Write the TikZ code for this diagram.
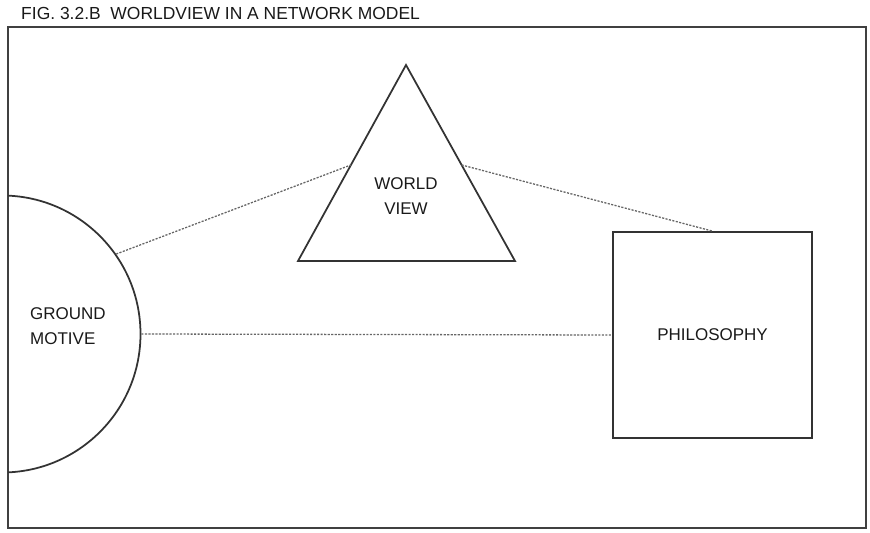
\documentclass[tikz,border=0pt]{standalone}
\usepackage{fontspec}
\setmainfont{Liberation Sans}
\usetikzlibrary{positioning}
\usetikzlibrary{calc}
\tikzset{
    frameline/.style = {draw=black!75, line width=1.3pt},
    shapeline/.style = {draw=black!80, line width=1.5pt},
    ground/.style = {circle, shapeline, minimum size=277*0.03cm, inner sep=0pt},
    phil/.style = {rectangle, shapeline, minimum width=199*0.03cm, minimum height=206*0.03cm, align=center},
    txt/.style = {inner sep=0pt, align=center, text=black!90, font=\fontsize{14.5}{21}\selectfont},
    linkd/.style = {draw=black!60, line width=1.1pt, dash pattern=on 1.8pt off 1.2pt}, % link
}

\begin{document}
\begin{tikzpicture}[x=0.03cm,y=-0.03cm]
%
\path[use as bounding box] (0,0) rectangle (870,532);
\node[txt, anchor=west, font=\fontsize{14.9}{21}\selectfont] at (21,13) (title) {FIG. 3.2.B\ \ WORLDVIEW IN A NETWORK MODEL};
\draw[frameline] (8,27) rectangle (866,528);
%
\begin{scope}
\clip (8,27) rectangle (866,528);
\node[ground] at (2,334) (gm) {};
\end{scope}
\node[txt, align=left, anchor=west] at (30,326) (gmtext) {GROUND\\MOTIVE};
%
\coordinate (tA) at (406,65);
\coordinate (tL) at (298,261);
\coordinate (tR) at (515,261);
\draw[shapeline, line join=miter] (tA) -- (tL) -- (tR) -- cycle;
\node[txt] at (406,196) (wv) {WORLD\\VIEW};
\coordinate (tLside) at ($(tA)!0.51!(tL)$);
\coordinate (tRside) at ($(tA)!0.51!(tR)$);
%
\node[phil, txt, shapeline, inner sep=0pt] at (712.5,335) (ph) {PHILOSOPHY};
%
\draw[linkd] (gm.35) -- (tLside);
\draw[linkd] (tRside) -- (ph.north);
\draw[linkd] (gm.east) -- (ph.west);

\end{tikzpicture}
\end{document}
